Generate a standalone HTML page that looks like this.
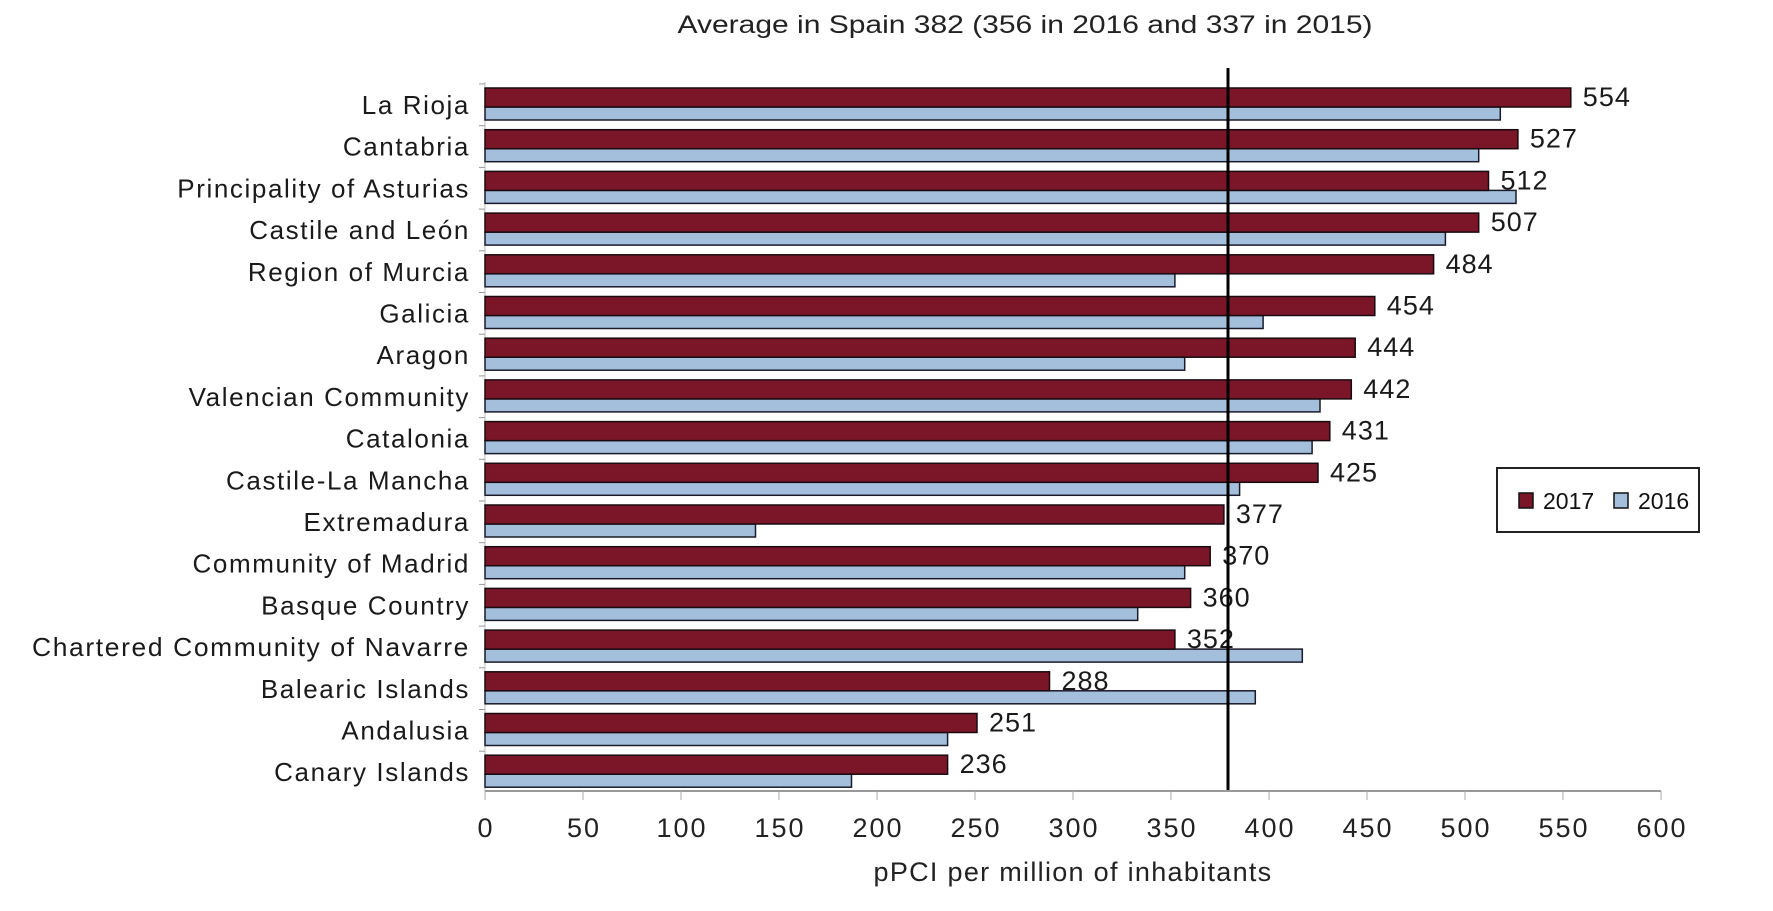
<!DOCTYPE html>
<html><head><meta charset="utf-8"><style>html,body{margin:0;padding:0;background:#fff;}svg{display:block;font-family:"Liberation Sans",Arial,sans-serif;}</style></head>
<body>
<svg width="1773" height="911" viewBox="0 0 1773 911" xmlns="http://www.w3.org/2000/svg">
<rect width="1773" height="911" fill="#fff"/>
<text x="1025" y="33" font-size="25" text-anchor="middle" fill="#222" textLength="695" lengthAdjust="spacingAndGlyphs">Average in Spain 382 (356 in 2016 and 337 in 2015)</text>
<line x1="485" y1="82" x2="485" y2="791" stroke="#bbb" stroke-width="1"/>
<g stroke="#999">
<line x1="479" y1="84" x2="485" y2="84"/><line x1="479" y1="125.7" x2="485" y2="125.7"/><line x1="479" y1="167.4" x2="485" y2="167.4"/><line x1="479" y1="209.1" x2="485" y2="209.1"/><line x1="479" y1="250.8" x2="485" y2="250.8"/><line x1="479" y1="292.5" x2="485" y2="292.5"/><line x1="479" y1="334.2" x2="485" y2="334.2"/><line x1="479" y1="375.9" x2="485" y2="375.9"/><line x1="479" y1="417.6" x2="485" y2="417.6"/><line x1="479" y1="459.3" x2="485" y2="459.3"/><line x1="479" y1="501" x2="485" y2="501"/><line x1="479" y1="542.7" x2="485" y2="542.7"/><line x1="479" y1="584.4" x2="485" y2="584.4"/><line x1="479" y1="626.1" x2="485" y2="626.1"/><line x1="479" y1="667.8" x2="485" y2="667.8"/><line x1="479" y1="709.5" x2="485" y2="709.5"/><line x1="479" y1="751.2" x2="485" y2="751.2"/>
</g>
<g fill="#a3bfdc" stroke="#1a1a2a" stroke-width="1.5">
<rect x="485" y="107" width="1015.3" height="13"/>
<rect x="485" y="148.7" width="993.7" height="13"/>
<rect x="485" y="190.4" width="1031" height="13"/>
<rect x="485" y="232.1" width="960.4" height="13"/>
<rect x="485" y="273.8" width="689.9" height="13"/>
<rect x="485" y="315.5" width="778.1" height="13"/>
<rect x="485" y="357.2" width="699.7" height="13"/>
<rect x="485" y="398.9" width="835" height="13"/>
<rect x="485" y="440.6" width="827.1" height="13"/>
<rect x="485" y="482.3" width="754.6" height="13"/>
<rect x="485" y="524" width="270.5" height="13"/>
<rect x="485" y="565.7" width="699.7" height="13"/>
<rect x="485" y="607.4" width="652.7" height="13"/>
<rect x="485" y="649.1" width="817.3" height="13"/>
<rect x="485" y="690.8" width="770.3" height="13"/>
<rect x="485" y="732.5" width="462.6" height="13"/>
<rect x="485" y="774.2" width="366.5" height="13"/>
</g>
<g fill="#7a1628" stroke="#1a0a10" stroke-width="1.5">
<rect x="485" y="88" width="1085.8" height="19"/>
<rect x="485" y="129.7" width="1032.9" height="19"/>
<rect x="485" y="171.4" width="1003.5" height="19"/>
<rect x="485" y="213.1" width="993.7" height="19"/>
<rect x="485" y="254.8" width="948.6" height="19"/>
<rect x="485" y="296.5" width="889.8" height="19"/>
<rect x="485" y="338.2" width="870.2" height="19"/>
<rect x="485" y="379.9" width="866.3" height="19"/>
<rect x="485" y="421.6" width="844.8" height="19"/>
<rect x="485" y="463.3" width="833" height="19"/>
<rect x="485" y="505" width="738.9" height="19"/>
<rect x="485" y="546.7" width="725.2" height="19"/>
<rect x="485" y="588.4" width="705.6" height="19"/>
<rect x="485" y="630.1" width="689.9" height="19"/>
<rect x="485" y="671.8" width="564.5" height="19"/>
<rect x="485" y="713.5" width="492" height="19"/>
<rect x="485" y="755.2" width="462.6" height="19"/>
</g>
<g font-size="26" text-anchor="end" fill="#1a1a1a" letter-spacing="1.6">
<text x="470" y="114">La Rioja</text>
<text x="470" y="155.7">Cantabria</text>
<text x="470" y="197.4">Principality of Asturias</text>
<text x="470" y="239.1">Castile and León</text>
<text x="470" y="280.8">Region of Murcia</text>
<text x="470" y="322.5">Galicia</text>
<text x="470" y="364.2">Aragon</text>
<text x="470" y="405.9">Valencian Community</text>
<text x="470" y="447.6">Catalonia</text>
<text x="470" y="489.3">Castile-La Mancha</text>
<text x="470" y="531">Extremadura</text>
<text x="470" y="572.7">Community of Madrid</text>
<text x="470" y="614.4">Basque Country</text>
<text x="470" y="656.1" textLength="438" lengthAdjust="spacingAndGlyphs">Chartered Community of Navarre</text>
<text x="470" y="697.8">Balearic Islands</text>
<text x="470" y="739.5">Andalusia</text>
<text x="470" y="781.2">Canary Islands</text>
</g>
<g font-size="27" fill="#1a1a1a" letter-spacing="1">
<text x="1582.8" y="106">554</text>
<text x="1529.9" y="147.7">527</text>
<text x="1500.5" y="189.4">512</text>
<text x="1490.7" y="231.1">507</text>
<text x="1445.6" y="272.8">484</text>
<text x="1386.8" y="314.5">454</text>
<text x="1367.2" y="356.2">444</text>
<text x="1363.3" y="397.9">442</text>
<text x="1341.8" y="439.6">431</text>
<text x="1330" y="481.3">425</text>
<text x="1235.9" y="523">377</text>
<text x="1222.2" y="564.7">370</text>
<text x="1202.6" y="606.4">360</text>
<text x="1186.9" y="648.1">352</text>
<text x="1061.5" y="689.8">288</text>
<text x="989" y="731.5">251</text>
<text x="959.6" y="773.2">236</text>
</g>
<line x1="485" y1="791" x2="1661" y2="791" stroke="#999" stroke-width="2"/>
<g stroke="#aaa">
<line x1="485" y1="791" x2="485" y2="800"/><line x1="583" y1="791" x2="583" y2="800"/><line x1="681" y1="791" x2="681" y2="800"/><line x1="779" y1="791" x2="779" y2="800"/><line x1="877" y1="791" x2="877" y2="800"/><line x1="975" y1="791" x2="975" y2="800"/><line x1="1073" y1="791" x2="1073" y2="800"/><line x1="1171" y1="791" x2="1171" y2="800"/><line x1="1269" y1="791" x2="1269" y2="800"/><line x1="1367" y1="791" x2="1367" y2="800"/><line x1="1465" y1="791" x2="1465" y2="800"/><line x1="1563" y1="791" x2="1563" y2="800"/><line x1="1661" y1="791" x2="1661" y2="800"/>
</g>
<g font-size="27" fill="#222" text-anchor="middle" letter-spacing="2">
<text x="486" y="837">0</text><text x="584" y="837">50</text><text x="682" y="837">100</text><text x="780" y="837">150</text><text x="878" y="837">200</text><text x="976" y="837">250</text><text x="1074" y="837">300</text><text x="1172" y="837">350</text><text x="1270" y="837">400</text><text x="1368" y="837">450</text><text x="1466" y="837">500</text><text x="1564" y="837">550</text><text x="1662" y="837">600</text>
</g>
<line x1="1228" y1="68" x2="1228" y2="790" stroke="#000" stroke-width="3"/>
<text x="1073" y="881" font-size="27" text-anchor="middle" fill="#222" letter-spacing="1.3">pPCI per million of inhabitants</text>
<rect x="1497" y="468" width="202" height="64" fill="#fff" stroke="#222" stroke-width="2"/>
<rect x="1519" y="493" width="14" height="15" fill="#7a1628" stroke="#111" stroke-width="1.5"/>
<text x="1543" y="509" font-size="23" fill="#111">2017</text>
<rect x="1614" y="493" width="14" height="15" fill="#a3bfdc" stroke="#111" stroke-width="1.5"/>
<text x="1638" y="509" font-size="23" fill="#111">2016</text>
</svg>
</body></html>
